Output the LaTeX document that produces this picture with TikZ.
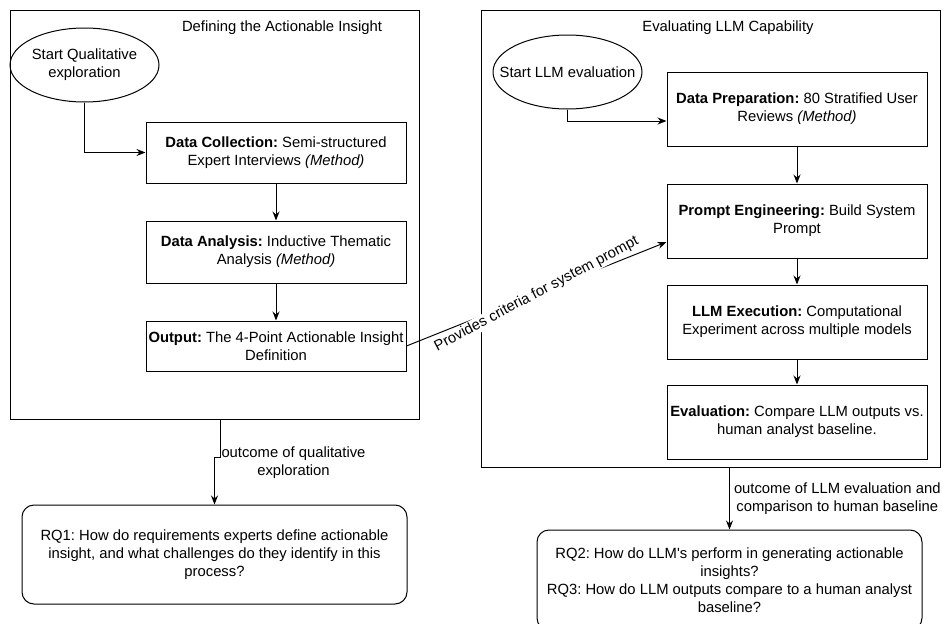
\documentclass[tikz,border=0pt]{standalone}
\usepackage{fontspec}
\setmainfont{Liberation Sans}[Ligatures=TeXOff]
\usetikzlibrary{positioning, shapes.geometric, arrows.meta, backgrounds}
\frenchspacing

\begin{document}
\begin{tikzpicture}[x=1pt, y=-1pt, node distance=37pt, >={Stealth[length=9pt, width=7pt]},
  line width=1pt,
  every node/.style={font=\fontsize{14.8}{18}\selectfont},
  stepbox/.style={draw, minimum width=260pt, minimum height=74pt, align=center, inner sep=2pt},
  startnode/.style={draw, ellipse, minimum width=149pt, minimum height=74pt, align=center, inner sep=0pt},
  panel/.style={draw, inner sep=0pt},
  rqbox/.style={draw, rounded corners=12pt, minimum width=385pt, align=center},
  flowlabel/.style={align=center, inner sep=1pt}]
  \useasboundingbox (0,0) rectangle (943,624);

  % Panels
  \node[panel, minimum width=409pt, minimum height=409pt] (defpanel) at (214.5,214.5) {};
  \node[panel, minimum width=459pt, minimum height=457pt] (evalpanel) at (710.5,238.5) {};
  \node (deftitle) at (282,28) {Defining the Actionable Insight};
  \node (evaltitle) at (728,28) {Evaluating LLM Capability};

  % Qualitative part
  \node[startnode] (qualstart) at (84.5,65) {Start Qualitative\\exploration};
  \node[stepbox, minimum height=61pt] (collect) at (276,152.5) {\textbf{Data Collection:} Semi-structured\\Expert Interviews \textit{(Method)}};
  \node[stepbox, minimum height=62pt, below=of collect] (analysis) {\textbf{Data Analysis:} Inductive Thematic\\Analysis \textit{(Method)}};
  \node[stepbox, minimum height=50pt, below=of analysis] (insight) {\textbf{Output:} The 4-Point Actionable Insight\\Definition};

  % LLM part
  \node[startnode] (llmstart) at (567.5,72) {\makebox[0pt]{Start LLM evaluation}};
  \node[stepbox] (prep) at (797,109) {\textbf{Data Preparation:} 80 Stratified User\\Reviews \textit{(Method)}};
  \node[stepbox, below=of prep] (prompt) {\textbf{Prompt Engineering:} Build System\\Prompt};
  \node[stepbox, below=26pt of prompt] (execution) {\textbf{LLM Execution:} Computational\\Experiment across multiple models};
  \node[stepbox, below=25pt of execution] (evaluation) {\textbf{Evaluation:} Compare LLM outputs vs.\\human analyst baseline.};

  % Research questions
  \node[rqbox, minimum height=99pt] (rq1) at (214.5,554.5) {RQ1: How do requirements experts define actionable\\insight, and what challenges do they identify in this\\process?};
  \node[rqbox, minimum height=100pt] (rq23) at (729.5,580) {RQ2: How do LLM's perform in generating actionable\\insights?\\RQ3: How do LLM outputs compare to a human analyst\\baseline?};

  \draw[->] (qualstart.south) |- (collect.west);
  \draw[->] (collect) -- (analysis);
  \draw[->] (analysis) -- (insight);

  \draw[->] (llmstart.south) |- ([yshift=-12pt]prep.west);
  \draw[->] (prep) -- (prompt);
  \draw[->] (prompt) -- (execution);
  \draw[->] (execution) -- (evaluation);

  \draw[->] (insight.east) -- node[flowlabel, fill=white, rotate=28] {Provides criteria for system prompt} ([yshift=-21pt]prompt.west);

  \draw[->] ([xshift=5.5pt]defpanel.south) -- ++(0,38) node[flowlabel, anchor=west, yshift=-5pt] {outcome of qualitative\\exploration} -| (rq1.north);
  \draw[->] (rq23.north |- evalpanel.south) -- node[flowlabel, anchor=west, xshift=3pt] {outcome of LLM evaluation and\\comparison to human baseline} (rq23.north);
\end{tikzpicture}
\end{document}
